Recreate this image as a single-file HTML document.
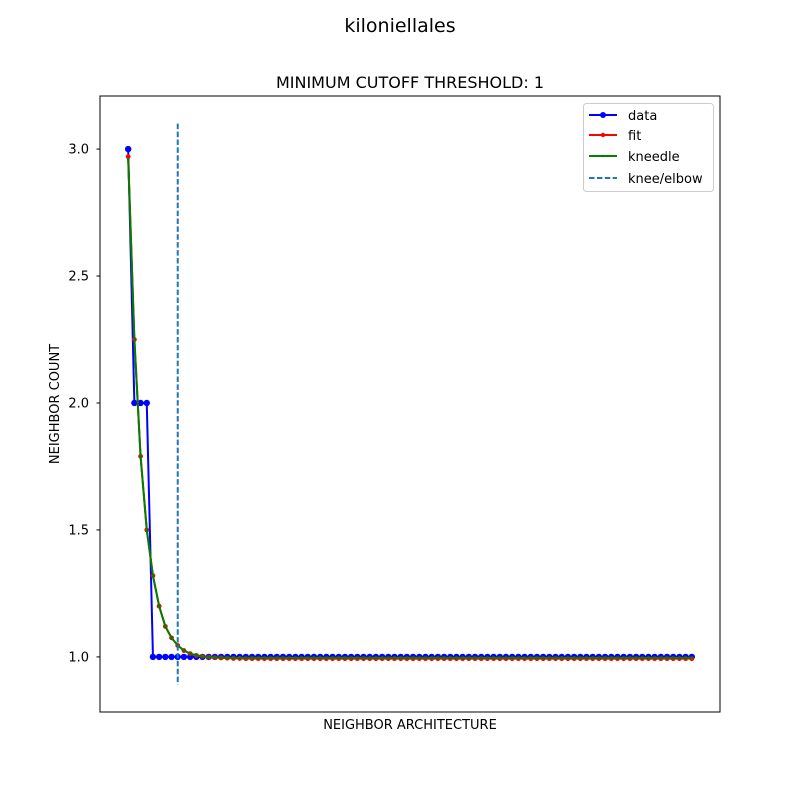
<!DOCTYPE html>
<html><head><meta charset="utf-8"><style>
body{margin:0;background:#fff;}
svg{display:block;font-family:"DejaVu Sans","Liberation Sans",sans-serif;}
</style></head><body>
<svg id="chart" width="800" height="800" xmlns="http://www.w3.org/2000/svg">
<rect width="800" height="800" fill="#fff"/>
<text x="400" y="32" text-anchor="middle" font-size="19">kiloniellales</text>
<text x="410" y="88" text-anchor="middle" font-size="16">MINIMUM CUTOFF THRESHOLD: 1</text>
<text x="410" y="729" text-anchor="middle" font-size="13">NEIGHBOR ARCHITECTURE</text>
<text x="59" y="404" text-anchor="middle" font-size="13" transform="rotate(-90 59 404)">NEIGHBOR COUNT</text>
<g id="yticks"></g>
<g id="plot"></g>
<rect x="100" y="96" width="620" height="616" fill="none" stroke="#000" stroke-width="1"/>
<g>
<rect x="583.5" y="103.5" width="130" height="88" rx="3" fill="#fff" fill-opacity="0.8" stroke="#ccc"/>
<g><line x1="589" y1="115" x2="617" y2="115" stroke="#0000ff" stroke-width="2"/><circle cx="603" cy="115" r="3" fill="#0000ff"/><text x="628" y="120" font-size="13">data</text></g>
<g><line x1="589" y1="135" x2="617" y2="135" stroke="#ff0000" stroke-width="2"/><circle cx="603" cy="135" r="2.2" fill="#ff0000"/><text x="628" y="140" font-size="13">fit</text></g>
<g><line x1="589" y1="156" x2="617" y2="156" stroke="#008000" stroke-width="2"/><circle cx="603" cy="156" r="1.2" fill="#008000"/><text x="628" y="161" font-size="13">kneedle</text></g>
<g><line x1="589" y1="178" x2="617" y2="178" stroke="#1f77b4" stroke-width="2" stroke-dasharray="5.5,2.4"/><text x="628" y="183" font-size="13">knee/elbow</text></g>
</g>
</svg>
<script>
const yTicks=[1.0,1.5,2.0,2.5,3.0];
const yTickLabels=["1.0","1.5","2.0","2.5","3.0"];
const dataVals=[3,2,2,2,1,1,1,1,1,1,1,1,1,1,1,1,1,1,1,1,1,1,1,1,1,1,1,1,1,1,1,1,1,1,1,1,1,1,1,1,1,1,1,1,1,1,1,1,1,1,1,1,1,1,1,1,1,1,1,1,1,1,1,1,1,1,1,1,1,1,1,1,1,1,1,1,1,1,1,1,1,1,1,1,1,1,1,1,1,1,1,1];
const fitVals=[2.97,2.25,1.79,1.50,1.32,1.20,1.12,1.075,1.045,1.025,1.013,1.006,1.002,0.999,0.997,0.996,0.995,0.994,0.994,0.993,0.993,0.993,0.993,0.993,0.993,0.993,0.993,0.993,0.993,0.993,0.993,0.993,0.993,0.993,0.993,0.993,0.993,0.993,0.993,0.993,0.993,0.993,0.993,0.993,0.993,0.993,0.993,0.993,0.993,0.993,0.993,0.993,0.993,0.993,0.993,0.993,0.993,0.993,0.993,0.993,0.993,0.993,0.993,0.993,0.993,0.993,0.993,0.993,0.993,0.993,0.993,0.993,0.993,0.993,0.993,0.993,0.993,0.993,0.993,0.993,0.993,0.993,0.993,0.993,0.993,0.993,0.993,0.993,0.993,0.993,0.993,0.993];
const kneedleVals=[2.96,2.25,1.79,1.50,1.32,1.20,1.12,1.075,1.045,1.025,1.013,1.006,1.002,1.0,0.998,0.997,0.996,0.996,0.996,0.996,0.996,0.996,0.996,0.996,0.996,0.996,0.996,0.996,0.996,0.996,0.996,0.996,0.996,0.996,0.996,0.996,0.996,0.996,0.996,0.996,0.996,0.996,0.996,0.996,0.996,0.996,0.996,0.996,0.996,0.996,0.996,0.996,0.996,0.996,0.996,0.996,0.996,0.996,0.996,0.996,0.996,0.996,0.996,0.996,0.996,0.996,0.996,0.996,0.996,0.996,0.996,0.996,0.996,0.996,0.996,0.996,0.996,0.996,0.996,0.996,0.996,0.996,0.996,0.996,0.996,0.996,0.996,0.996,0.996,0.996,0.996,0.996];
const kneeIndex=[8];
const kneeRange=[0.89,3.1];

const NS="http://www.w3.org/2000/svg";
const xMin=-4.55,xMax=95.55,yMin=0.783,yMax=3.209;
const X=i=>100+(i-xMin)/(xMax-xMin)*620;
const Y=v=>712-(v-yMin)/(yMax-yMin)*616;
function mk(tag,attrs,parent){const e=document.createElementNS(NS,tag);for(const k in attrs)e.setAttribute(k,attrs[k]);parent.appendChild(e);return e;}
const yt=document.getElementById('yticks');
yTicks.forEach((v,i)=>{
  const l=mk('line',{x1:96.5,x2:100,y1:Y(v),y2:Y(v),stroke:'#000'},yt);
  
  
  const t=mk('text',{x:89,y:Y(v)+4.5,'text-anchor':'end','font-size':13},yt);
  t.textContent=yTickLabels[i];
  
  
});
const plot=document.getElementById('plot');
function series(vals,color,r,name,sw){
  const g=mk('g',{},plot);
  
  
  const pl=mk('polyline',{points:vals.map((v,i)=>X(i)+','+Y(v)).join(' '),fill:'none',stroke:color,'stroke-width':sw},g);
  
  
  vals.forEach((v,i)=>{
    const c=mk('circle',{cx:X(i),cy:Y(v),r:r,fill:color},g);
    
    
  });
}
series(dataVals,'#0000ff',3.2,'data',2);
series(fitVals,'#ff0000',2.4,'fit',2);
series(kneedleVals,'#008000',1.3,'kneedle',2);
const kl=mk('line',{x1:X(kneeIndex[0]),x2:X(kneeIndex[0]),y1:Y(kneeRange[1]),y2:Y(kneeRange[0]),stroke:'#1f77b4','stroke-width':2,'stroke-dasharray':'5.5,2.4'},plot);


</script>
</body></html>
